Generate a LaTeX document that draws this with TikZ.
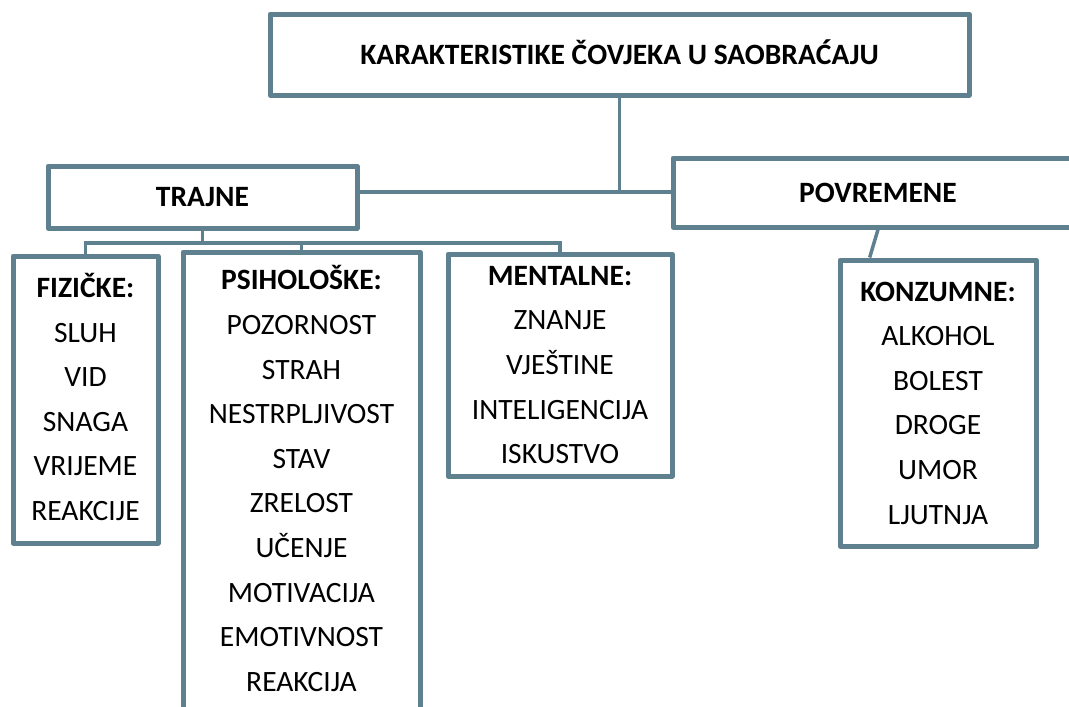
\documentclass[tikz,border=0pt]{standalone}
\usepackage{fontspec}
\setmainfont{Carlito}
\usepackage{tikz}
\usetikzlibrary{calc}
\definecolor{okvirPlava}{RGB}{95,128,143}
\tikzset{
  okvir/.style={draw=okvirPlava, line width=5pt, fill=white, align=center,
    inner sep=0pt, line join=round, font=\fontsize{29.5}{44.6}\selectfont},
  glavni/.style={okvir, font=\fontsize{29.5}{44.6}\selectfont\bfseries},
  spoj/.style={draw=okvirPlava, line width=3.5pt}
}

\begin{document}
\begin{tikzpicture}[x=1pt, y=-1pt]
  \useasboundingbox (0,0) rectangle (1069,707);
  \clip (0,0) rectangle (1069,707);

  % glavni okviri
  \node[glavni, minimum width=699pt, minimum height=81pt] (naslov) at (619.5,54.5)
    {KARAKTERISTIKE \smash{Č}OVJEKA U SAOBRA\smash{Ć}AJU};
  \node[glavni, minimum width=309pt, minimum height=62pt] (trajne) at (202.5,197) {TRAJNE};
  \node[glavni, minimum width=410pt, minimum height=69pt] (povremene) at (878,192.5) {POVREMENE};

  % podgrupe
  \node[okvir, minimum width=145pt, minimum height=287pt] (fizicke) at (85.5,399.5)
    {\textbf{FIZI\smash{Č}KE:}\\SLUH\\VID\\SNAGA\\VRIJEME\\REAKCIJE};
  \node[okvir, minimum width=237pt, minimum height=458pt] (psiholoske) at (301.5,481)
    {\textbf{PSIHOLO\smash{Š}KE:}\\POZORNOST\\STRAH\\NESTRPLJIVOST\\STAV\\ZRELOST\\UČENJE\\MOTIVACIJA\\EMOTIVNOST\\REAKCIJA};
  \node[okvir, minimum width=224pt, minimum height=222pt] (mentalne) at (560,365)
    {\textbf{MENTALNE:}\\ZNANJE\\VJEŠTINE\\INTELIGENCIJA\\ISKUSTVO};
  \node[okvir, minimum width=196pt, minimum height=286pt] (konzumne) at (938,403)
    {\textbf{KONZUMNE:}\\ALKOHOL\\BOLEST\\DROGE\\UMOR\\LJUTNJA};

  % veze
  \coordinate (cvor) at (naslov.south |- 0,192);
  \coordinate (grana) at (0,243);
  \draw[spoj] (naslov.south) -- (cvor) -- (povremene.west |- cvor);
  \draw[spoj] (cvor) -- (trajne.east |- cvor);
  \draw[spoj] (trajne.south) -- (trajne.south |- grana);
  \draw[spoj] (fizicke.north) -- (fizicke.north |- grana) -- (mentalne.north |- grana) -- (mentalne.north);
  \draw[spoj] (psiholoske.north) -- (psiholoske.north |- grana);
  \draw[spoj] (povremene.south) -- ($(konzumne.north west)!0.16!(konzumne.north east)$);
\end{tikzpicture}
\end{document}
